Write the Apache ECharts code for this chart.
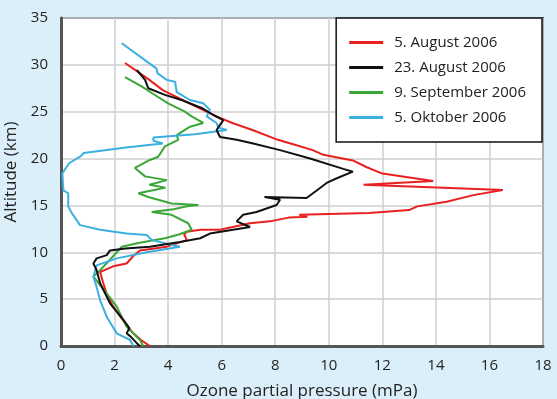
<!DOCTYPE html>
<html>
<head>
<meta charset="utf-8">
<script src="https://cdn.jsdelivr.net/npm/echarts@6/dist/echarts.min.js"></script>
<style>
html,body{margin:0;padding:0;background:#dbeffa;}
#chart{width:557px;height:399px;}
</style>
</head>
<body>
<div id="chart"></div>
<script>
// Series names (legend order)
const seriesNames = ['5. August 2006', '23. August 2006', '9. September 2006', '5. Oktober 2006'];
// Axis ticks
const xTicks = [0, 2, 4, 6, 8, 10, 12, 14, 16, 18];
const yTicks = [0, 5, 10, 15, 20, 25, 30, 35];

// Profiles: [ozone partial pressure (mPa), altitude (km)]
const aug5 = [[3.32,0],[3.0,0.6],[2.7,1.35],[2.3,2.8],[1.95,4.2],[1.7,5.6],[1.58,6.7],[1.46,7.9],[1.95,8.5],[2.45,8.8],[2.7,9.6],[2.95,10.2],[3.95,10.6],[4.7,11.3],[4.6,11.9],[4.7,12.2],[5.2,12.4],[5.94,12.4],[7.06,13.1],[7.8,13.3],[8.5,13.7],[9.2,13.8],[8.9,14.0],[11.5,14.2],[13.0,14.5],[13.3,14.9],[14.4,15.4],[15.4,16.1],[16.5,16.65],[11.3,17.2],[13.9,17.6],[12.0,18.4],[11.4,19.1],[10.9,19.8],[9.8,20.4],[9.4,20.9],[8.7,21.5],[8.1,22.0],[7.2,23.0],[6.4,23.8],[5.8,24.5],[4.8,25.9],[3.8,27.3],[3.3,28.4],[2.9,29.2],[2.39,30.2]];
const aug23 = [[2.95,0],[2.83,0.3],[2.6,1.0],[2.45,1.35],[2.55,1.9],[2.33,2.8],[1.83,4.55],[1.46,6.7],[1.33,8.1],[1.21,8.8],[1.33,9.35],[1.71,9.7],[1.83,10.2],[2.4,10.4],[3.32,10.6],[4.44,11.1],[5.2,11.5],[5.56,12.0],[7.06,12.7],[6.56,13.3],[6.8,14.0],[7.3,14.3],[8.05,15.05],[8.18,15.6],[7.6,15.9],[9.17,15.8],[9.55,16.6],[9.92,17.4],[10.3,17.9],[10.9,18.6],[10.54,18.9],[9.3,20.0],[8.18,20.9],[7.18,21.6],[6.56,22.0],[5.94,22.3],[5.81,23.05],[5.94,23.6],[6.06,24.1],[5.69,24.65],[5.25,25.4],[4.5,26.25],[3.88,26.8],[3.26,27.5],[3.14,28.4],[2.83,29.45]];
const sep9 = [[3.07,0],[2.95,0.64],[2.45,2.06],[2.08,4.2],[1.71,5.6],[1.21,7.4],[1.46,8.1],[1.83,9.2],[2.27,10.6],[2.89,11.0],[3.88,11.5],[4.4,11.9],[4.88,12.4],[4.75,13.1],[4.13,14.0],[3.39,14.3],[4.2,14.6],[4.7,14.9],[5.13,15.05],[4.13,15.2],[3.26,15.9],[2.89,16.3],[3.39,16.6],[3.9,16.9],[3.3,17.2],[3.95,17.7],[3.14,18.1],[2.76,19.0],[3.32,19.85],[3.63,20.2],[3.88,21.3],[4.38,22.0],[4.32,22.5],[4.82,23.4],[5.31,23.8],[4.88,24.5],[4.63,25.0],[4.0,25.9],[3.39,27.0],[3.01,27.7],[2.39,28.7]];
const oct5 = [[2.7,0],[2.58,0.64],[2.08,1.35],[1.71,3.1],[1.46,4.9],[1.33,6.3],[1.21,7.4],[1.33,8.6],[2.08,9.35],[3.2,10.0],[4.44,10.6],[3.39,11.3],[3.2,11.85],[2.45,12.0],[1.46,12.4],[0.71,12.9],[0.4,14.2],[0.27,14.9],[0.27,16.3],[0.09,16.6],[0.05,18.4],[0.3,19.5],[0.71,20.2],[0.85,20.6],[2.5,21.2],[3.8,21.6],[3.45,21.9],[3.45,22.25],[5.0,22.6],[6.19,23.05],[5.87,23.3],[5.81,23.8],[5.44,24.5],[5.56,25.2],[5.31,25.9],[4.82,26.25],[4.32,27.1],[4.26,28.2],[3.95,28.4],[3.6,29.1],[3.57,29.6],[2.27,32.3]];

const colors = {red:'#e8201f', black:'#111111', green:'#3aa637', blue:'#3ab0e2'};
const FONT = 'Open Sans';

const chart = echarts.init(document.getElementById('chart'));
function line(name, data, color) {
  return {name, type:'line', data, symbol:'none', lineStyle:{width:2, color}, itemStyle:{color}, animation:false};
}
chart.setOption({
  backgroundColor:'#dbeffa',
  textStyle:{fontFamily:FONT},
  grid:{left:61, right:14, top:18, bottom:53, outerBoundsMode:'none', containLabel:false, show:true, backgroundColor:'#ffffff', borderColor:'#444', borderWidth:2},
  legend:{
    data:seriesNames, orient:'vertical', right:15, top:18,
    backgroundColor:'#ffffff', borderColor:'#111', borderWidth:1.5, borderRadius:0,
    padding:[17,16,17,13], itemGap:10, itemWidth:34, itemHeight:3, icon:'rect',
    textStyle:{fontFamily:FONT, fontSize:15, color:'#222', padding:[0,0,0,6]}
  },
  xAxis:{
    type:'value', min:0, max:18, interval:2,
    name:'Ozone partial pressure (mPa)', nameLocation:'middle', nameGap:37,
    nameTextStyle:{fontFamily:FONT, fontSize:17, color:'#222'},
    axisLine:{show:true, lineStyle:{color:'#555', width:3}},
    axisTick:{show:false},
    axisLabel:{fontFamily:FONT, fontSize:15, color:'#222', margin:12, formatter:v=>xTicks.includes(v)?String(v):''},
    splitLine:{show:true, lineStyle:{color:'#cfcfcf', width:1.5}}
  },
  yAxis:{
    type:'value', min:0, max:35, interval:5,
    name:'Altitude (km)', nameLocation:'middle', nameGap:40,
    nameTextStyle:{fontFamily:FONT, fontSize:17, color:'#222', padding:[0,0,0,20]},
    axisLine:{show:true, lineStyle:{color:'#555', width:3}},
    axisTick:{show:false},
    axisLabel:{fontFamily:FONT, fontSize:15, color:'#222', margin:13, formatter:v=>yTicks.includes(v)?String(v):''},
    splitLine:{show:true, lineStyle:{color:'#cfcfcf', width:1.5}}
  },
  series:[
    line(seriesNames[0], aug5, colors.red),
    line(seriesNames[2], sep9, colors.green),
    line(seriesNames[3], oct5, colors.blue),
    line(seriesNames[1], aug23, colors.black)
  ]
});
</script>
</body>
</html>
